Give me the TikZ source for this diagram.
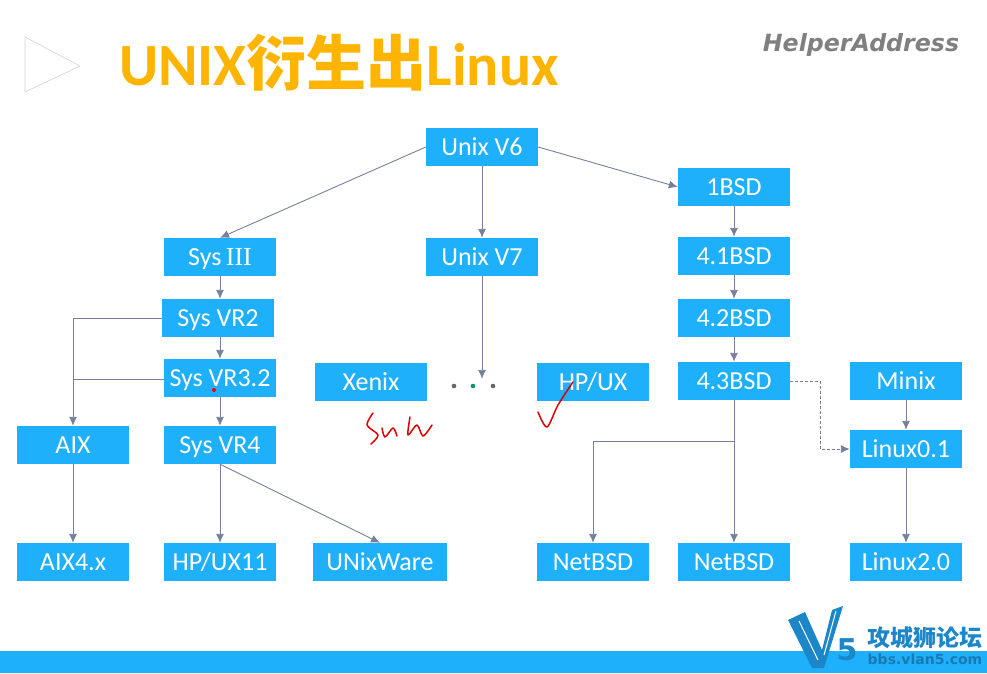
\documentclass[tikz,border=0pt]{standalone}
\usepackage{fontspec}
\setmainfont{Carlito}
\newfontfamily\cjk{Noto Sans CJK SC}
\newfontfamily\heavy{DejaVu Sans}
\newfontfamily\romanfont{Liberation Serif}
\definecolor{boxblue}{HTML}{1FB0FB}
\definecolor{linegrey}{HTML}{76809A}
\definecolor{titleorange}{HTML}{FFB400}
\definecolor{logoblue}{HTML}{1B86C8}
\usetikzlibrary{arrows.meta}
\tikzset{
  unitbox/.style={fill=boxblue,text=white,minimum width=112pt,minimum height=38pt,inner sep=0pt,text height=19pt,text depth=3pt,font=\fontsize{26}{26}\selectfont},
  link/.style={draw=linegrey,line width=0.9pt,-{Latex[length=9pt,width=8pt]}},
  plainlink/.style={draw=linegrey,line width=0.9pt},
  hand/.style={draw=red!85!black,line width=1.5pt,line cap=round,line join=round},
}
\begin{document}
\begin{tikzpicture}[x=1pt,y=-1pt]
\useasboundingbox (0,0) rectangle (987,673);
% bottom bar and title
\fill[boxblue] (0,651) rectangle (987,673);
\draw[draw=black!18,line width=0.6pt,line join=round] (25,37) -- (80,66) -- (25,92) -- cycle;
\node (title) at (339,63) {\fontsize{60}{60}\selectfont\bfseries\color{titleorange}UNIX{\cjk 衍生出}Linux};
\node (brand) at (861,45) {\fontsize{23.7}{24}\selectfont\heavy\bfseries\itshape\color{black!50}HelperAddress};
% boxes
\node[unitbox] (v6) at (482,147) {Unix V6};
\node[unitbox] (bsd1) at (734,187) {1BSD};
\node[unitbox] (sys3) at (220,257) {Sys{\romanfont\,III}};
\node[unitbox] (v7) at (482,257) {Unix V7};
\node[unitbox] (bsd41) at (734,256) {4.1BSD};
\node[unitbox] (vr2) at (218,318) {Sys VR2};
\node[unitbox] (bsd42) at (734,318) {4.2BSD};
\node[unitbox] (vr32) at (220,378) {Sys VR3.2};
\node[unitbox] (xenix) at (371,382) {Xenix};
\node[unitbox] (hpux) at (593,382) {HP/UX};
\node[unitbox] (bsd43) at (734,381) {4.3BSD};
\node[unitbox] (minix) at (906,381) {Minix};
\node[unitbox] (aix) at (73,445) {AIX};
\node[unitbox] (vr4) at (220,445) {Sys VR4};
\node[unitbox] (linux01) at (906,449) {Linux0.1};
\node[unitbox] (aix4) at (73,562) {AIX4.x};
\node[unitbox] (hpux11) at (220,562) {HP/UX11};
\node[unitbox,minimum width=134pt] (unixware) at (380,562) {UNixWare};
\node[unitbox] (netbsd1) at (593,562) {NetBSD};
\node[unitbox] (netbsd2) at (734,562) {NetBSD};
\node[unitbox] (linux2) at (906,562) {Linux2.0};
% dots under Unix V7
\node[inner sep=0pt,minimum width=56pt,minimum height=14pt] (dots) at (473,386) {};
\fill[black!60] (454,386) circle (2.3pt) (493,386) circle (2.3pt);
\fill[teal!80!green] (473,386) circle (2.3pt);
% helper points
\coordinate (sysjoin) at (73,318);
\coordinate (sysjoin2) at (73,379);
\coordinate (bsdjoin) at (734,441);
% connectors
\draw[link] (v6.west) -- (sys3.north);
\draw[link] (v6.south) -- (v7.north);
\draw[link] (v6.east) -- (bsd1.west);
\draw[link] (v7.south) -- (v7.south |- dots.north);
\foreach \a/\b in {bsd1/bsd41,bsd41/bsd42,bsd42/bsd43,minix/linux01,linux01/linux2,aix/aix4,vr4/hpux11,bsd43/netbsd2,vr32/vr4}
  \draw[link] (\a) -- (\b);
\draw[link] (sys3.south) -- (sys3.south |- vr2.north);
\draw[link] (vr2.south -| vr32) -- (vr32.north);
\draw[link] (vr4.south) -- (unixware.north);
\draw[link] (vr2.west) -- (sysjoin) -- (aix.north);
\draw[plainlink] (sysjoin2 -| vr32.west) -- (sysjoin2);
\draw[link] (bsdjoin) -| (netbsd1.north);
\draw[link,densely dashed] (bsd43.east) -- ++(30,0) |- (linux01.west);
% handwriting
\draw[hand] plot[smooth] coordinates {(373,413) (367,425) (378,435) (371,444)};
\draw[hand] plot[smooth] coordinates {(382,428) (385,437) (393,428) (397,436)};
\draw[hand] plot[smooth] coordinates {(410,417) (408,435) (417,425) (423,436) (432,425)};
\draw[hand] plot[smooth] coordinates {(538,412) (547,427) (558,405) (573,382)};
\fill[red] (214,390) circle (2pt);
% logo
\fill[logoblue] (788,620) -- (805,612) -- (822,650) -- (832,610) -- (843,606) -- (824,668) -- (812,668) -- cycle;
\draw[white,line width=1pt] (799,621) -- (818,660) (836,611) -- (824,655);
\node (five) at (847,650) {\fontsize{30}{30}\selectfont\heavy\bfseries\color{logoblue}5};
\node (forum) at (925,638) {\fontsize{23}{23}\selectfont\cjk\bfseries\color{logoblue}攻城狮论坛};
\node (site) at (925,659) {\fontsize{14}{14}\selectfont\heavy\bfseries\color{logoblue!90!black}bbs.vlan5.com};
\end{tikzpicture}
\end{document}
